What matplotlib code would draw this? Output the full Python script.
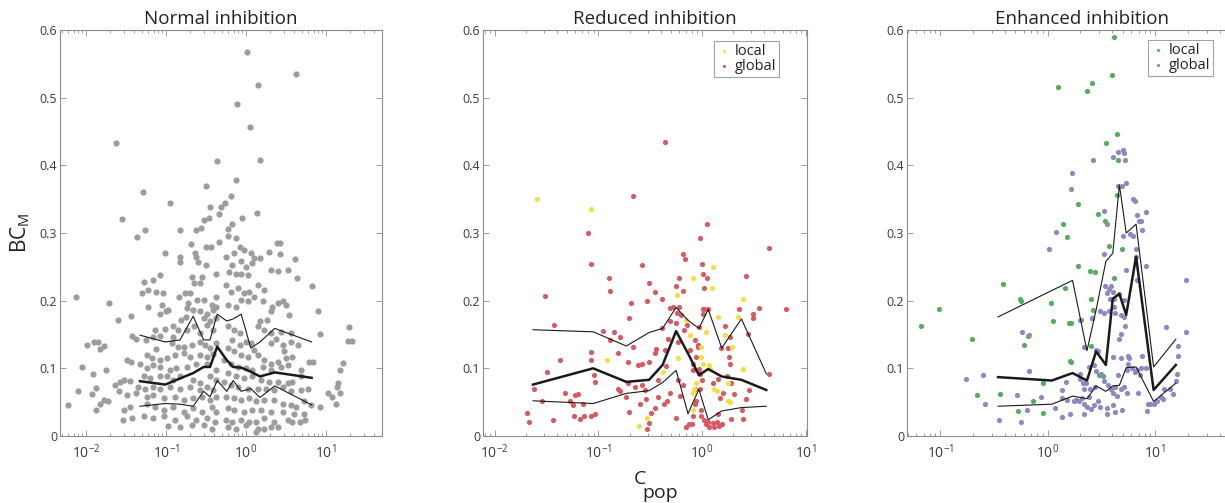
import numpy as np
import matplotlib
matplotlib.use("Agg")
import matplotlib.pyplot as plt
from matplotlib.ticker import FixedLocator, LogLocator, FuncFormatter, NullFormatter

plt.rcParams['font.family'] = ['Open Sans', 'DejaVu Sans']
plt.rcParams['mathtext.fontset'] = 'custom'
plt.rcParams['mathtext.rm'] = 'Open Sans'
plt.rcParams['mathtext.it'] = 'Open Sans:italic'
plt.rcParams['mathtext.bf'] = 'Open Sans:bold'

# ---- data (x values are log10 of C_pop) ----
# Normal inhibition
norm_logc = [
    0.01, 0.62, 0.15, -0.11, 0.05, -1.63, -0.36, 0.18, -0.50, -0.13, -1.29, -0.95, -0.45, -0.31,
    -0.26, -0.19, -1.55, -0.34, 0.14, -0.05, -0.52, -0.46, -0.18, -0.56, -0.23, -1.26, -0.83, -0.62,
    -1.36, -0.69, -0.50, -0.44, -0.34, -1.01, -0.83, -0.82, -0.64, -0.62, -0.60, -0.50, -0.38, -0.67,
    -0.65, -0.55, -1.28, -1.16, -1.08, -1.30, -1.22, -1.12, -1.04, -0.58, -0.76, -0.70, -0.84, -0.72,
    -0.61, -0.52, -0.38, -0.43, -1.23, -1.05, -1.08, -1.00, -0.97, -0.74, -0.66, -0.58, -0.49, -0.41,
    -0.37, -2.12, -1.71, -1.44, -1.60, -0.75, -0.81, -0.53, -0.45, -0.37, -0.65, -0.49, -1.14, -1.01,
    -0.91, -0.85, -0.74, -0.58, -0.41, -1.43, -1.37, -1.25, -1.16, -1.08, -0.91, -1.99, -1.90, -1.85,
    -1.83, -1.78, -0.92, -0.85, -0.78, -0.68, -0.58, -0.51, -0.45, -0.37, -1.12, -1.24, -1.18, -1.08,
    -0.99, -0.89, -0.78, -0.70, -0.58, -0.49, -0.41, -1.49, -1.44, -1.33, -1.24, -1.16, -1.08, -0.95,
    -0.87, -0.74, -0.62, -0.49, -0.37, -2.05, -1.91, -1.75, -1.58, -1.53, -1.45, -1.28, -1.20, -1.08,
    -0.99, -0.91, -0.83, -0.66, -0.58, -0.45, -0.37, -1.64, -1.35, -1.26, -1.16, -1.07, -0.95, -0.83,
    -0.70, -0.58, -0.49, -0.41, -2.10, -1.88, -1.92, -1.78, -1.83, -1.72, -1.59, -1.49, -1.37, -1.24,
    -1.16, -1.03, -0.89, -0.78, -0.66, -0.55, -0.45, -0.37, -2.22, -1.88, -1.53, -1.45, -1.24, -1.14,
    -1.03, -0.91, -0.78, -0.66, -0.55, -0.43, -0.37, -1.54, -1.43, -1.28, -1.16, -1.03, -0.89, -0.74,
    -0.62, -0.49, -0.39, -0.97, -0.83, -0.68, -0.53, -0.43,
    -0.23, -0.13, -0.08, -0.02, -0.15, -0.25, 0.06, 0.10, 0.18, 0.08, -0.06, 0.00, -0.17, -0.21,
    -0.13, -0.06, 0.02, 0.39, 0.42, 0.29, 0.43, 0.61, 0.31, 0.40, 0.53, 0.64, 0.82, 0.23, 0.15, 0.04,
    -0.03, -0.10, -0.19, -0.25, 0.10, 0.21, -0.06, 0.02, -0.13, -0.23, 0.33, 0.40, 0.46, 0.50, 0.54,
    0.90, 0.92, 1.29, 1.27, 1.32, 0.31, 0.18, 0.26, 0.15, 0.23, 0.31, 0.44, 0.56, 0.38, 0.31, 0.46,
    0.56, 0.65, 0.48, 0.58, 0.50, 0.79, 0.69, 0.84, -0.23, -0.15, -0.08, -0.17, -0.08, 0.00, 0.06,
    0.10, -0.23, -0.15, -0.06, 0.02, 0.15, 0.23, 0.31, 0.40, 0.44, 0.52, -0.27, -0.19, -0.10, 0.00,
    0.08, 0.21, 0.31, -0.23, -0.13, -0.02, 0.08, 0.19, 0.29, 0.40, 0.52, 0.58, 0.69, -0.27, -0.19,
    -0.10, 0.02, 0.15, 0.25, 0.35, 0.46, 0.56, 0.69, 0.77, 1.21, 1.17, 1.15, 1.14, 1.02, 1.08, 1.13,
    1.17, -0.25, -0.15, -0.06, 0.04, 0.13, 0.23, 0.35, 0.46, 0.56, 0.63, 0.73, 0.81, 0.92, -0.23,
    -0.15, -0.02, 0.08, 0.19, 0.31, 0.46, 0.60, 0.73, -0.25, -0.17, -0.06, 0.04, 0.13, 0.23, 0.35,
    0.52, 0.58, 0.67, 0.74, -0.23, -0.13, 0.00, 0.15, 0.23, 0.31, 0.40, 0.13,
]
norm_bc = [
    0.567, 0.535, 0.518, 0.491, 0.457, 0.433, 0.406, 0.408, 0.369, 0.379, 0.361, 0.345, 0.339, 0.339,
    0.344, 0.354, 0.320, 0.328, 0.329, 0.322, 0.319, 0.322, 0.313, 0.308, 0.306, 0.305, 0.305, 0.305,
    0.294, 0.284, 0.279, 0.280, 0.286, 0.271, 0.264, 0.257, 0.271, 0.264, 0.257, 0.253, 0.240, 0.235,
    0.226, 0.235, 0.228, 0.231, 0.238, 0.211, 0.216, 0.213, 0.212, 0.226, 0.211, 0.211, 0.206, 0.197,
    0.201, 0.201, 0.206, 0.194, 0.191, 0.193, 0.181, 0.184, 0.186, 0.189, 0.186, 0.184, 0.181, 0.186,
    0.191, 0.205, 0.196, 0.177, 0.172, 0.176, 0.172, 0.175, 0.170, 0.175, 0.162, 0.164, 0.157, 0.158,
    0.162, 0.157, 0.157, 0.152, 0.157, 0.148, 0.144, 0.142, 0.147, 0.148, 0.147, 0.134, 0.139, 0.139,
    0.128, 0.133, 0.137, 0.132, 0.131, 0.134, 0.139, 0.134, 0.130, 0.137, 0.128, 0.120, 0.116, 0.112,
    0.115, 0.120, 0.122, 0.117, 0.120, 0.117, 0.121, 0.112, 0.110, 0.106, 0.101, 0.105, 0.102, 0.098,
    0.100, 0.102, 0.107, 0.107, 0.098, 0.102, 0.092, 0.098, 0.080, 0.083, 0.081, 0.088, 0.085, 0.088,
    0.089, 0.083, 0.088, 0.083, 0.078, 0.088, 0.083, 0.076, 0.073, 0.069, 0.073, 0.069, 0.073, 0.069,
    0.073, 0.068, 0.073, 0.068, 0.066, 0.071, 0.062, 0.053, 0.048, 0.051, 0.066, 0.061, 0.063, 0.058,
    0.061, 0.056, 0.058, 0.053, 0.056, 0.058, 0.053, 0.058, 0.046, 0.038, 0.038, 0.043, 0.048, 0.043,
    0.038, 0.043, 0.036, 0.041, 0.036, 0.043, 0.036, 0.024, 0.027, 0.029, 0.026, 0.029, 0.024, 0.029,
    0.024, 0.026, 0.021, 0.015, 0.014, 0.016, 0.016, 0.011,
    0.296, 0.292, 0.280, 0.275, 0.270, 0.265, 0.270, 0.263, 0.263, 0.255, 0.258, 0.250, 0.253, 0.243,
    0.240, 0.240, 0.238, 0.285, 0.285, 0.272, 0.269, 0.262, 0.245, 0.244, 0.246, 0.234, 0.222, 0.216,
    0.223, 0.213, 0.211, 0.218, 0.213, 0.223, 0.206, 0.199, 0.201, 0.199, 0.191, 0.194, 0.190, 0.196,
    0.199, 0.194, 0.179, 0.185, 0.151, 0.161, 0.141, 0.141, 0.184, 0.170, 0.171, 0.163, 0.157, 0.152,
    0.154, 0.152, 0.144, 0.137, 0.134, 0.139, 0.134, 0.125, 0.117, 0.115, 0.110, 0.098, 0.110, 0.162,
    0.157, 0.152, 0.142, 0.134, 0.139, 0.137, 0.127, 0.130, 0.125, 0.120, 0.117, 0.120, 0.112, 0.107,
    0.110, 0.102, 0.105, 0.112, 0.107, 0.102, 0.100, 0.098, 0.102, 0.098, 0.093, 0.088, 0.085, 0.088,
    0.083, 0.080, 0.080, 0.078, 0.080, 0.088, 0.080, 0.075, 0.073, 0.070, 0.070, 0.070, 0.068, 0.073,
    0.066, 0.068, 0.070, 0.108, 0.098, 0.078, 0.073, 0.063, 0.058, 0.048, 0.063, 0.058, 0.056, 0.053,
    0.056, 0.051, 0.053, 0.053, 0.048, 0.046, 0.043, 0.051, 0.046, 0.043, 0.041, 0.038, 0.036, 0.038,
    0.038, 0.036, 0.036, 0.033, 0.033, 0.024, 0.021, 0.024, 0.021, 0.021, 0.026, 0.021, 0.024, 0.020,
    0.021, 0.023, 0.014, 0.011, 0.016, 0.011, 0.011, 0.014, 0.014, 0.006,
]
norm_bins = [-1.325, -1.01, -0.825, -0.66, -0.53, -0.45, -0.36, -0.24, -0.16, -0.06, 0.06, 0.175, 0.36, 0.82]
norm_median = [0.081, 0.076, 0.085, 0.093, 0.102, 0.102, 0.132, 0.112, 0.102, 0.101, 0.095, 0.088, 0.094, 0.086]
norm_upper = [0.149, 0.139, 0.142, 0.177, 0.142, 0.142, 0.180, 0.170, 0.173, 0.180, 0.130, 0.139, 0.159, 0.139]
norm_lower = [0.044, 0.048, 0.047, 0.044, 0.066, 0.058, 0.082, 0.066, 0.082, 0.066, 0.070, 0.057, 0.074, 0.046]

# Reduced inhibition
red_global_logc = [
    -0.67, -1.10, -1.07, -1.51, -1.43, -1.49, -1.54, -1.62, -1.69, -1.67, -1.44, -1.37, -1.32, -1.27,
    -1.24, -1.22, -1.20, -1.23, -1.18, -1.15, -1.14, -1.07, -1.03, -1.07, -1.07, -1.04, -1.03, -0.90,
    -0.89, -0.95, -0.89, -0.85, -0.81, -0.79, -0.71, -0.70, -0.68, -0.67, -0.62, -0.58, -0.58, -0.53,
    -0.51, -0.51, -0.45, -0.44, -0.45, -0.39, -0.39, -0.42, -0.42, -0.55, -0.58, -0.65, -0.71, -0.73,
    -0.81, -0.79, -0.70, -0.60, -0.54, -0.49, -0.45, -0.51, -0.53, -0.37, -0.34, -0.31, -0.36, -0.35,
    -0.33, -0.31, -0.31, -0.28, -0.25, -0.25, -0.24, -0.23, -0.22, -0.22, -0.18, -0.16, -0.18, -0.20,
    -0.17, -0.14, -0.25, -0.23, -0.21, -0.18, -0.15, -0.13, -0.10, -0.09, -0.07, -0.12, -0.09, -0.09,
    -0.07, -0.02, -0.04, -0.06, -0.04, -0.07, -0.04, 0.01, -0.03, 0.01, 0.02, 0.06, 0.05, -0.02, 0.00,
    0.01, 0.05, 0.02, -0.03, -0.02, 0.00, -0.06, -0.01, -0.01, 0.02, 0.04, 0.06, 0.07, 0.11, 0.12,
    0.14, 0.16, 0.19, 0.15, 0.17, 0.20, 0.11, 0.15, 0.18, 0.22, 0.25, 0.27, 0.24, 0.26, 0.28, 0.31,
    0.28, 0.40, 0.39, 0.42, 0.44, 0.45, 0.42, 0.49, 0.49, 0.55, 0.65, 0.65, 0.81, 0.36, 0.27, -0.36,
]
red_global_bc = [
    0.354, 0.300, 0.254, 0.207, 0.164, 0.095, 0.051, 0.069, 0.034, 0.020, 0.024, 0.112, 0.063, 0.052,
    0.046, 0.061, 0.062, 0.029, 0.025, 0.048, 0.029, 0.029, 0.033, 0.112, 0.124, 0.090, 0.080, 0.233,
    0.214, 0.155, 0.142, 0.153, 0.123, 0.146, 0.110, 0.174, 0.196, 0.132, 0.105, 0.106, 0.252, 0.199,
    0.226, 0.110, 0.213, 0.129, 0.122, 0.203, 0.160, 0.057, 0.083, 0.068, 0.075, 0.073, 0.078, 0.058,
    0.070, 0.067, 0.035, 0.047, 0.054, 0.034, 0.041, 0.019, 0.010, 0.048, 0.052, 0.063, 0.127, 0.103,
    0.144, 0.170, 0.189, 0.191, 0.222, 0.167, 0.182, 0.139, 0.191, 0.234, 0.269, 0.262, 0.214, 0.179,
    0.157, 0.164, 0.027, 0.083, 0.059, 0.075, 0.013, 0.018, 0.017, 0.029, 0.048, 0.127, 0.106, 0.098,
    0.069, 0.070, 0.098, 0.117, 0.132, 0.142, 0.135, 0.180, 0.161, 0.188, 0.187, 0.188, 0.313, 0.293,
    0.254, 0.240, 0.233, 0.218, 0.099, 0.092, 0.083, 0.052, 0.038, 0.029, 0.023, 0.017, 0.021, 0.014,
    0.019, 0.013, 0.020, 0.015, 0.018, 0.033, 0.056, 0.063, 0.078, 0.084, 0.130, 0.163, 0.130, 0.107,
    0.088, 0.117, 0.078, 0.062, 0.025, 0.025, 0.038, 0.054, 0.151, 0.068, 0.236, 0.174, 0.181, 0.189,
    0.092, 0.278, 0.188, 0.188, 0.146, 0.435,
]
red_local_logc = [
    -1.59, -1.07, -0.92, -0.61, -0.53, -0.24, -0.15, -0.09, -0.12, -0.01, 0.04, 0.11, 0.10, 0.15,
    0.12, 0.14, 0.22, 0.29, 0.40, 0.35, 0.40, 0.25, 0.25, 0.27, -0.01, 0.01, 0.07, -0.38, -0.23,
    -0.09, -0.08, -0.09, -0.06, 0.08,
]
red_local_bc = [
    0.350, 0.336, 0.112, 0.015, 0.026, 0.209, 0.171, 0.233, 0.149, 0.132, 0.154, 0.250, 0.218, 0.176,
    0.069, 0.067, 0.149, 0.131, 0.202, 0.176, 0.099, 0.078, 0.051, 0.050, 0.117, 0.107, 0.105, 0.095,
    0.115, 0.063, 0.069, 0.039, 0.078, 0.099,
]
red_bins = [-1.63, -1.05, -0.73, -0.51, -0.38, -0.25, -0.135, -0.03, 0.06, 0.19, 0.38, 0.62]
red_median = [0.076, 0.100, 0.080, 0.083, 0.105, 0.155, 0.122, 0.090, 0.099, 0.088, 0.083, 0.068]
red_upper = [0.157, 0.154, 0.133, 0.153, 0.159, 0.190, 0.171, 0.159, 0.187, 0.130, 0.173, 0.092]
red_lower = [0.052, 0.048, 0.063, 0.067, 0.079, 0.097, 0.033, 0.069, 0.024, 0.037, 0.042, 0.044]

# Enhanced inhibition
enh_local_logc = [
    0.62, 0.60, 0.10, 0.37, 0.41, 0.64, 0.54, 0.65, 0.64, 0.28, 0.47, 0.53, 0.14, 0.18, 0.57, 0.69,
    -1.18, -1.01, -0.42, -0.26, -0.25, 0.03, 0.28, 0.16, 0.39, 0.44, 0.40, 0.42, 0.41, 0.05, 0.20,
    0.22, 0.31, 0.62, -0.70, -0.18, -0.22, 0.21, 0.22, 0.40, 0.48, 0.51, -0.66, -0.44, -0.14, -0.04,
    -0.28, -0.04, 0.26,
]
enh_local_bc = [
    0.590, 0.533, 0.516, 0.510, 0.522, 0.446, 0.433, 0.408, 0.356, 0.343, 0.328, 0.318, 0.314, 0.294,
    0.281, 0.276, 0.163, 0.187, 0.224, 0.202, 0.200, 0.197, 0.251, 0.218, 0.244, 0.243, 0.203, 0.186,
    0.175, 0.170, 0.167, 0.167, 0.172, 0.234, 0.143, 0.148, 0.134, 0.111, 0.110, 0.133, 0.090, 0.089,
    0.061, 0.062, 0.051, 0.079, 0.037, 0.034, 0.053,
]
enh_global_logc = [
    0.42, 0.61, 0.65, 0.70, 0.71, 0.72, 0.23, 0.22, 0.65, 0.69, 0.73, 0.79, 0.81, 0.52, 0.55, 0.83,
    0.91, 0.85, 0.87, 0.88, 0.08, 0.70, 0.77, 0.79, 0.01, 0.82,
    0.52, 0.82, 0.73, 0.83, 0.91, 0.53, 0.57, 0.55, 0.59, 0.61, 0.58, 0.62, 0.66, 0.71, 0.62, 0.49,
    0.52, 0.57, 0.63, 0.68, 0.71, 0.72, 0.68, 0.66, 0.30, 0.41, -0.24, -0.17, 0.34, 0.45, 0.47, 0.61,
    0.68, 0.75, 0.76, 0.88, 0.83, 0.75, 0.78, 0.87, 0.91, 0.74, 0.81, 0.86, 0.65, 0.50, 0.45, 0.43,
    0.38, 0.30, 0.30, 0.33, 0.36, 0.52, 0.56, 0.59, 0.63, 0.68, 0.71, 0.61, 0.64, 0.74, 0.84, 0.44,
    0.39, 0.34, 0.38, 0.32, 0.13, 0.18, 0.24, 0.43, 0.47, 0.49, 0.55, 0.61, 0.63, 0.69, 0.55, 0.37,
    0.34, 0.40, 0.34, 0.29, 0.17, -0.17, 1.10, 1.29, 1.29, 1.21, 1.21, 1.20, 1.19, 1.17, 1.14, 1.08,
    1.07, 1.05, 0.99, 0.93, 0.92, 1.02, 0.95, -0.76, -0.60, -0.58, -0.29, -0.06, 0.13, 0.07, -0.19,
    -0.45, -0.25, 0.13, 0.21,
]
enh_global_bc = [
    0.408, 0.413, 0.419, 0.422, 0.418, 0.408, 0.388, 0.365, 0.370, 0.370, 0.374, 0.350, 0.348, 0.333,
    0.314, 0.326, 0.331, 0.318, 0.318, 0.304, 0.302, 0.295, 0.298, 0.296, 0.276, 0.277,
    0.269, 0.265, 0.245, 0.231, 0.251, 0.222, 0.217, 0.212, 0.221, 0.213, 0.202, 0.202, 0.210, 0.201,
    0.191, 0.184, 0.182, 0.184, 0.182, 0.179, 0.176, 0.162, 0.151, 0.143, 0.171, 0.174, 0.154, 0.149,
    0.132, 0.127, 0.125, 0.117, 0.116, 0.118, 0.115, 0.118, 0.098, 0.106, 0.101, 0.100, 0.100, 0.098,
    0.095, 0.090, 0.090, 0.092, 0.096, 0.105, 0.102, 0.091, 0.084, 0.079, 0.079, 0.082, 0.075, 0.069,
    0.072, 0.070, 0.073, 0.064, 0.059, 0.064, 0.063, 0.073, 0.069, 0.069, 0.058, 0.056, 0.068, 0.053,
    0.051, 0.046, 0.051, 0.043, 0.041, 0.046, 0.035, 0.038, 0.033, 0.043, 0.033, 0.040, 0.047, 0.051,
    0.080, 0.096, 0.161, 0.230, 0.153, 0.133, 0.118, 0.092, 0.081, 0.062, 0.070, 0.070, 0.054, 0.058,
    0.048, 0.047, 0.037, 0.051, 0.048, 0.084, 0.090, 0.048, 0.060, 0.057, 0.056, 0.041, 0.038, 0.024,
    0.021, 0.028, 0.033,
]
enh_bins = [-0.462, 0.038, 0.231, 0.365, 0.45, 0.541, 0.605, 0.667, 0.73, 0.822, 0.985, 1.192]
enh_median = [0.087, 0.082, 0.093, 0.082, 0.125, 0.105, 0.203, 0.210, 0.179, 0.265, 0.068, 0.105]
enh_upper = [0.176, 0.215, 0.230, 0.126, 0.186, 0.258, 0.270, 0.371, 0.300, 0.313, 0.102, 0.143]
enh_lower = [0.044, 0.047, 0.059, 0.055, 0.074, 0.066, 0.074, 0.075, 0.101, 0.102, 0.051, 0.078]

yticks = [0, 0.1, 0.2, 0.3, 0.4, 0.5, 0.6]
spine_col = '#8c8c8c'
text_col = '#3a3a3a'
line_col = '#1a1a1a'


def style_axes(ax, xmin, xmax, decades):
    ax.set_xscale('log')
    ax.set_xlim(xmin, xmax)
    ax.set_ylim(0, 0.6)
    ax.xaxis.set_major_locator(FixedLocator([10.0 ** d for d in decades]))
    ax.xaxis.set_major_formatter(FuncFormatter(
        lambda v, p: r'$\mathregular{10^{%d}}$' % int(round(np.log10(v)))))
    ax.xaxis.set_minor_locator(LogLocator(base=10, subs=np.arange(2, 10), numticks=20))
    ax.xaxis.set_minor_formatter(NullFormatter())
    ax.set_yticks(yticks)
    ax.set_yticklabels(['%g' % t for t in yticks])
    ax.tick_params(which='both', direction='in', top=True, right=True,
                   color=spine_col, width=0.6, labelcolor=text_col)
    ax.tick_params(which='major', length=4)
    ax.tick_params(which='minor', length=2)
    ax.tick_params(axis='y', labelsize=9, pad=2)
    ax.tick_params(axis='x', labelsize=10, pad=5)
    for s in ax.spines.values():
        s.set_color(spine_col)
        s.set_linewidth(0.8)


def draw_lines(ax, bins, med, up, lo):
    x = 10.0 ** np.array(bins)
    ax.plot(x, med, color=line_col, lw=1.8, zorder=4)
    ax.plot(x, up, color=line_col, lw=0.8, zorder=4)
    ax.plot(x, lo, color=line_col, lw=0.8, zorder=4)


fig = plt.figure(figsize=(12.25, 5.03), dpi=100)
bottom = 67 / 503
height = 406 / 503
ax1 = fig.add_axes([60 / 1225, bottom, 322 / 1225, height])
ax2 = fig.add_axes([483 / 1225, bottom, 324 / 1225, height])
ax3 = fig.add_axes([907 / 1225, bottom, 324 / 1225, height])

# panel 1
ax1.scatter(10.0 ** np.array(norm_logc), norm_bc, s=20, color='#9d9d9d', linewidths=0, zorder=2)
draw_lines(ax1, norm_bins, norm_median, norm_upper, norm_lower)
style_axes(ax1, 10 ** -2.325, 10 ** 1.70, [-2, -1, 0, 1])
ax1.set_title('Normal inhibition', fontsize=13.5, color='#222222', pad=4)

# panel 2
g2 = ax2.scatter(10.0 ** np.array(red_global_logc), red_global_bc, s=14, color='#d65a60',
                 linewidths=0, zorder=2)
l2 = ax2.scatter(10.0 ** np.array(red_local_logc), red_local_bc, s=14, color='#f0e045',
                 linewidths=0, zorder=2)
draw_lines(ax2, red_bins, red_median, red_upper, red_lower)
style_axes(ax2, 10 ** -2.112, 10 ** 1.0125, [-2, -1, 0, 1])
ax2.set_title('Reduced inhibition', fontsize=13.5, color='#222222', pad=4, x=0.53)

# panel 3
l3 = ax3.scatter(10.0 ** np.array(enh_local_logc), enh_local_bc, s=14, color='#52ad5c',
                 linewidths=0, zorder=2)
g3 = ax3.scatter(10.0 ** np.array(enh_global_logc), enh_global_bc, s=14, color='#8d88c2',
                 linewidths=0, zorder=2)
draw_lines(ax3, enh_bins, enh_median, enh_upper, enh_lower)
style_axes(ax3, 10 ** -1.309, 10 ** 1.705, [-1, 0, 1])
ax3.set_title('Enhanced inhibition', fontsize=13.5, color='#222222', pad=4, x=0.54)

for ax, hl, anchor in [(ax2, [l2, g2], (779 / 1225, 1 - 41 / 503)),
                       (ax3, [l3, g3], (1213 / 1225, 1 - 40 / 503))]:
    leg = ax.legend(hl, ['local', 'global'], loc='upper right', bbox_to_anchor=anchor,
                    bbox_transform=fig.transFigure, fontsize=10.5, frameon=True, fancybox=False,
                    borderpad=0.2, handletextpad=0.2, handlelength=1.0, labelspacing=0.0,
                    borderaxespad=0, markerscale=0.6)
    leg.get_frame().set_edgecolor('#8c8c8c')
    leg.get_frame().set_linewidth(0.8)
    for t in leg.get_texts():
        t.set_color('#222222')

fig.text(20 / 1225, 1 - 233 / 503, r'BC$_\mathregular{M}$', rotation=90, fontsize=15,
         color='#222222', ha='center', va='center')
fig.text(640 / 1225, 1 - 479 / 503, 'C', fontsize=14, color='#222222', ha='center', va='center')
fig.text(660 / 1225, 1 - 493 / 503, 'pop', fontsize=14, color='#222222', ha='center', va='center')

fig.savefig('out.png', dpi=100)
